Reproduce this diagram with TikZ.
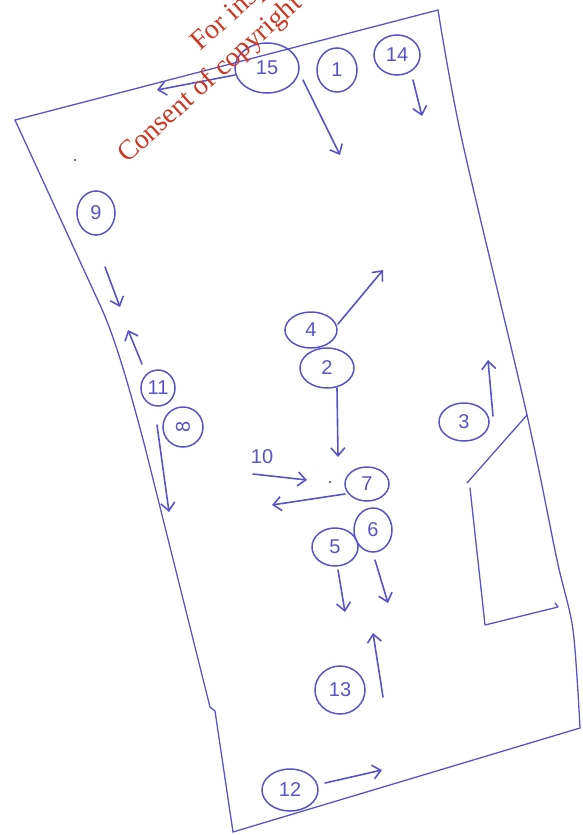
\documentclass[tikz,border=0pt]{standalone}
\usepackage{fontspec}
\setmainfont{Liberation Serif}
\newfontfamily\labfont{Liberation Sans}
\usetikzlibrary{shapes.geometric,arrows.meta}
\definecolor{ink}{RGB}{88,84,200}
\definecolor{wm}{RGB}{205,55,35}
\begin{document}
\begin{tikzpicture}[x=1pt,y=-1pt,
  wall/.style={draw=ink,line width=1.3pt,line join=round,line cap=round},
  num/.style={ellipse,draw=ink,line width=1.5pt,inner sep=0pt,text=ink,font=\labfont\fontsize{20}{20}\selectfont},
  pen/.style={draw=ink,line width=1.6pt,line cap=round,-{Straight Barb[length=8pt,width=14pt,line width=1.6pt]}},
  wmark/.style={anchor=base west,rotate=42,text=wm,inner sep=0pt,font=\fontsize{28}{28}\selectfont}
]
\useasboundingbox (0,0) rectangle (582,835);
\clip (0,0) rectangle (582,835);

% outline of the plan
\draw[wall] (15,120) -- (438,10);
\draw[wall] plot[smooth] coordinates {(438,10) (462,140) (527,415) (557,560) (573,630) (580,728)};
\draw[wall] (580,728) -- (233,832);
\draw[wall] (15,120) -- (100,305) .. controls (115,337) and (130,390) .. (145,447)
  -- (210,707) -- (215,711) -- (233,832);

% interior wall
\draw[wall] (527,415) -- (467,483);
\draw[wall] (470,488) -- (485,625) -- (558,607) -- (555,603);

% stray dots
\fill[ink!60!black] (75,160) circle (1.2pt);
\fill[ink!60!black] (330,482) circle (1.2pt);

% numbered positions
\node[num,minimum width=64pt,minimum height=50pt] (n15) at (267,68) {15};
\node[num,minimum width=40pt,minimum height=44pt] (n1) at (337,70) {1};
\node[num,minimum width=46pt,minimum height=40pt] (n14) at (397,55) {14};
\node[num,minimum width=38pt,minimum height=44pt] (n9) at (96,213) {9};
\node[num,minimum width=34pt,minimum height=36pt] (n11) at (158,388) {11};
\node[num,minimum width=40pt,minimum height=40pt] (n8) at (183,427) {\rotatebox{90}{8}};
\node[num,minimum width=52pt,minimum height=36pt] (n4) at (311,330) {4};
\node[num,minimum width=54pt,minimum height=40pt] (n2) at (327,368) {2};
\node[text=ink,inner sep=0pt,font=\labfont\fontsize{20}{20}\selectfont] (n10) at (262,457) {10};
\node[num,minimum width=44pt,minimum height=34pt] (n7) at (367,484) {7};
\node[num,minimum width=38pt,minimum height=44pt] (n6) at (373,530) {6};
\node[num,minimum width=46pt,minimum height=38pt] (n5) at (335,547) {5};
\node[num,minimum width=50pt,minimum height=38pt] (n3) at (464,422) {3};
\node[num,minimum width=50pt,minimum height=48pt] (n13) at (340,690) {13};
\node[num,minimum width=56pt,minimum height=42pt] (n12) at (290,790) {12};

% arrow end points
\coordinate (s15) at (235,75);  \coordinate (e15) at (157,90);
\coordinate (s1) at (303,80);   \coordinate (e1) at (340,155);
\coordinate (s14) at (413,80);  \coordinate (e14) at (422,116);
\coordinate (s9) at (105,267);  \coordinate (e9) at (120,307);
\coordinate (s11) at (142,364); \coordinate (e11) at (128,330);
\coordinate (s8) at (157,425);  \coordinate (e8) at (169,512);
\coordinate (s4) at (338,324);  \coordinate (e4) at (383,270);
\coordinate (s2) at (337,388);  \coordinate (e2) at (338,457);
\coordinate (s10) at (253,474); \coordinate (e10) at (307,480);
\coordinate (s7) at (345,494);  \coordinate (e7) at (272,505);
\coordinate (s5) at (338,570);  \coordinate (e5) at (345,612);
\coordinate (s6) at (375,560);  \coordinate (e6) at (388,603);
\coordinate (s3) at (493,416);  \coordinate (e3) at (488,360);
\coordinate (s13) at (383,697); \coordinate (e13) at (373,633);
\coordinate (s12) at (325,783); \coordinate (e12) at (382,770);

\foreach \k in {15,1,14,9,11,8,4,2,10,7,5,6,3,13,12}
  \draw[pen] (s\k) -- (e\k);

% watermark (cut off at the top edge, as in the reference)
\node[wmark] (wm1) at (200,52) {For inspection};
\node[wmark] (wm2) at (127,164) {Consent of copyright owner};
\end{tikzpicture}
\end{document}
